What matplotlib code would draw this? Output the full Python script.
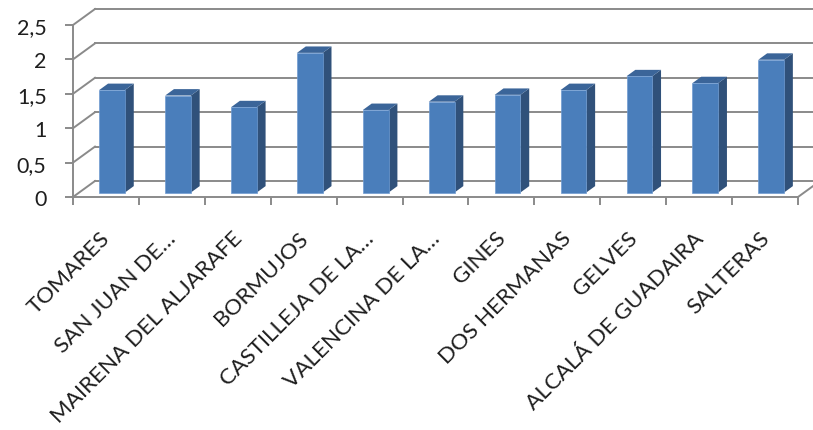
import numpy as np
import matplotlib
matplotlib.use("Agg")
import matplotlib.pyplot as plt
from matplotlib.patches import Polygon
from matplotlib.transforms import ScaledTranslation

# Data
categories = ["TOMARES", "SAN JUAN DE…", "MAIRENA DEL ALJARAFE", "BORMUJOS",
              "CASTILLEJA DE LA…", "VALENCINA DE LA…", "GINES", "DOS HERMANAS",
              "GELVES", "ALCALÁ DE GUADAIRA", "SALTERAS"]
values = [1.49, 1.41, 1.24, 2.03, 1.20, 1.32, 1.42, 1.49, 1.69, 1.59, 1.93]
y_ticks = [0, 0.5, 1, 1.5, 2, 2.5]
y_tick_labels = ["0", "0,5", "1", "1,5", "2", "2,5"]

plt.rcParams["font.family"] = ["Lato", "DejaVu Sans"]

W, H = 813, 431
fig = plt.figure(figsize=(W / 100, H / 100), dpi=100)
# front plane of the 3-D box
x0_px, x1_px, y0_px, y1_px = 73, 798, 198, 26
ax = fig.add_axes([x0_px / W, (H - y0_px) / H, (x1_px - x0_px) / W, (y0_px - y1_px) / H])
n = len(categories)
ymax = 2.5
ax.set_xlim(0, n)
ax.set_ylim(0, ymax)

px_x = (x1_px - x0_px) / n          # pixels per category
px_y = (y0_px - y1_px) / ymax       # pixels per unit
DX = 22 / px_x                      # oblique depth offset (data units)
DY = 16 / px_y

grid_c = "#8a8a8a"
lw = 1.4

# back wall gridlines and left wall diagonals
for v in y_ticks:
    ax.plot([DX, n + DX], [v + DY, v + DY], color=grid_c, lw=lw, clip_on=False, zorder=1)
    ax.plot([0, DX], [v, v + DY], color=grid_c, lw=lw, clip_on=False, zorder=1)
# floor right edge
ax.plot([n, n + DX], [0, DY], color=grid_c, lw=lw, clip_on=False, zorder=1)

# bars (oblique 3-D columns)
front_c, side_c, top_c = "#4a7ebb", "#30517a", "#3b6599"
f1, depth = 0.28, 0.40
w = 0.39
xs = np.arange(n) + 0.5 + f1 * DX
base = f1 * DY
ax.bar(xs, values, width=w, bottom=base, color=front_c, edgecolor="#6f9bd1",
       linewidth=0.5, zorder=3, clip_on=False)
ddx, ddy = depth * DX, depth * DY
for xc, v in zip(xs, values):
    xl, xr = xc - w / 2, xc + w / 2
    top = base + v
    side = Polygon([(xr, base), (xr + ddx, base + ddy), (xr + ddx, top + ddy), (xr, top)],
                   closed=True, facecolor=side_c, edgecolor="none", zorder=2, clip_on=False)
    cap = Polygon([(xl, top), (xl + ddx, top + ddy), (xr + ddx, top + ddy), (xr, top)],
                  closed=True, facecolor=top_c, edgecolor="none", zorder=2, clip_on=False)
    ax.add_patch(side)
    ax.add_patch(cap)

# axes styling
for s in ["top", "right"]:
    ax.spines[s].set_visible(False)
for s in ["left", "bottom"]:
    ax.spines[s].set_color(grid_c)
    ax.spines[s].set_linewidth(lw)

txt_c = "#1e1e1e"
ax.set_yticks(y_ticks, y_tick_labels)
ax.tick_params(axis="y", length=6, width=lw, color=grid_c, pad=13,
               labelsize=15.5, labelcolor=txt_c)

ax.set_xticks(np.arange(n) + 0.5, categories)
ax.set_xticks(np.arange(n + 1), minor=True)
ax.tick_params(axis="x", which="major", length=0, pad=27, labelsize=16.2, labelcolor=txt_c)
ax.tick_params(axis="x", which="minor", length=6, width=lw, color=grid_c)
offset = ScaledTranslation(1 / 100, 0, fig.dpi_scale_trans)
for lab in ax.get_xticklabels():
    lab.set_rotation(45)
    lab.set_ha("right")
    lab.set_va("center")
    lab.set_rotation_mode("anchor")
    lab.set_transform(lab.get_transform() + offset)

fig.savefig("out.png", dpi=100)
